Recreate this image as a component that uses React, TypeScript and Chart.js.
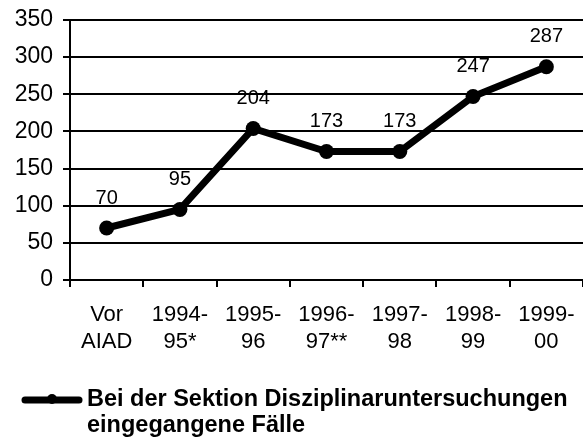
import React, { useEffect, useRef } from "react";
import { Chart, registerables } from "chart.js";

Chart.register(...registerables);

const categories: string[][] = [
  ["Vor", "AIAD"],
  ["1994-", "95*"],
  ["1995-", "96"],
  ["1996-", "97**"],
  ["1997-", "98"],
  ["1998-", "99"],
  ["1999-", "00"],
];
const cases: number[] = [70, 95, 204, 173, 173, 247, 287];
const seriesLabel = "Bei der Sektion Disziplinaruntersuchungen\neingegangene Fälle";
const yMin = 0;
const yMax = 350;
const yStep = 50;

const FONT = "'Liberation Sans', Arial, sans-serif";

const valueLabels = {
  id: "valueLabels",
  afterDatasetsDraw(chart: any) {
    const ctx = chart.ctx;
    const meta = chart.getDatasetMeta(0);
    const data = chart.data.datasets[0].data as number[];
    ctx.save();
    ctx.font = `20px ${FONT}`;
    ctx.fillStyle = "#000";
    ctx.textAlign = "center";
    ctx.textBaseline = "middle";
    meta.data.forEach((pt: any, i: number) => {
      ctx.fillText(String(data[i]), pt.x, pt.y - 30);
    });
    ctx.restore();
  },
};

const customLegend = {
  id: "customLegend",
  afterDraw(chart: any) {
    const ctx = chart.ctx;
    const ds = chart.data.datasets[0];
    const lines = String(ds.label).split("\n");
    const x0 = 22;
    const x1 = 82;
    const y0 = 400;
    ctx.save();
    ctx.strokeStyle = "#000";
    ctx.lineWidth = 7;
    ctx.lineCap = "round";
    ctx.beginPath();
    ctx.moveTo(x0 + 3, y0);
    ctx.lineTo(x1 - 3, y0);
    ctx.stroke();
    ctx.beginPath();
    ctx.fillStyle = "#000";
    ctx.arc((x0 + x1) / 2, y0 - 1, 5, 0, Math.PI * 2);
    ctx.fill();
    ctx.font = `bold 23.5px ${FONT}`;
    ctx.textAlign = "left";
    ctx.textBaseline = "middle";
    lines.forEach((t, i) => ctx.fillText(t, 87, y0 + i * 26));
    ctx.restore();
  },
};

export default function App() {
  const ref = useRef<HTMLCanvasElement>(null);
  useEffect(() => {
    if (!ref.current) return;
    const chart = new Chart(ref.current, {
      type: "line",
      data: {
        labels: categories,
        datasets: [
          {
            label: seriesLabel,
            data: cases,
            borderColor: "#000",
            backgroundColor: "#000",
            borderWidth: 7,
            pointRadius: 7.5,
            pointHoverRadius: 7.5,
            pointBackgroundColor: "#000",
            pointBorderColor: "#000",
            pointBorderWidth: 0,
            tension: 0,
            fill: false,
          },
        ],
      },
      plugins: [valueLabels, customLegend],
      options: {
        responsive: false,
        animation: false,
        events: [],
        layout: { autoPadding: false, padding: { left: 0, right: 0, top: 20, bottom: 80 } },
        plugins: { legend: { display: false }, tooltip: { enabled: false } },
        scales: {
          x: {
            type: "category",
            offset: true,
            grid: {
              offset: true,
              drawOnChartArea: false,
              drawTicks: true,
              tickLength: 7,
              color: "#000",
              lineWidth: 2,
            },
            border: { color: "#000", width: 2 },
            ticks: {
              color: "#000",
              font: { family: FONT, size: 22, lineHeight: 1.25 },
              padding: 14,
              maxRotation: 0,
              autoSkip: false,
            },
            afterFit(scale: any) {
              scale.height = 77;
              scale.paddingLeft = 0;
              scale.paddingRight = 0;
            },
          },
          y: {
            min: yMin,
            max: yMax,
            ticks: {
              stepSize: yStep,
              color: "#000",
              font: { family: FONT, size: 23 },
              padding: 10,
            },
            grid: {
              color: "#000",
              lineWidth: 2,
              tickLength: 7,
              drawTicks: true,
            },
            border: { color: "#000", width: 2 },
            afterFit(scale: any) {
              scale.width = 70;
              scale.paddingTop = 0;
              scale.paddingBottom = 0;
            },
          },
        },
      },
    });
    return () => chart.destroy();
  }, []);
  return (
    <div style={{ position: "absolute", left: 0, top: 0, width: 583, height: 437, background: "#fff" }}>
      <canvas ref={ref} width={583} height={437} />
    </div>
  );
}
